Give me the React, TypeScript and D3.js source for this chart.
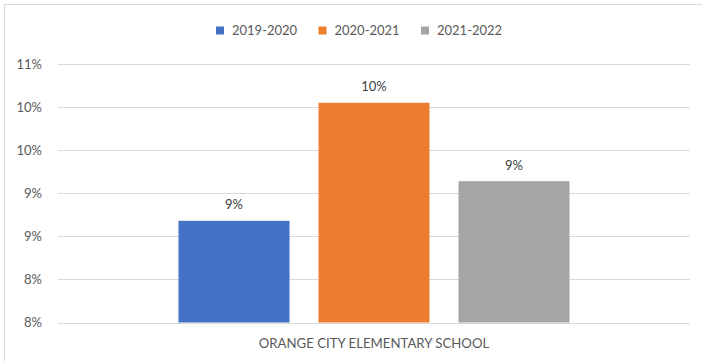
import React, { useEffect, useRef } from 'react';
import * as d3 from 'd3';

const categories = ['ORANGE CITY ELEMENTARY SCHOOL'];
const seriesNames = ['2019-2020', '2020-2021', '2021-2022'];
const seriesColors = ['#4472c4', '#ed7d31', '#a5a5a5'];
const seriesValues = [0.0898, 0.1035, 0.0944];
const yTicks = [0.078, 0.083, 0.088, 0.093, 0.098, 0.103, 0.108];

const WIDTH = 702;
const HEIGHT = 361;
const FONT = 'Lato, "Open Sans", sans-serif';

const App: React.FC = () => {
  const svgRef = useRef<SVGSVGElement>(null);

  useEffect(() => {
    if (!svgRef.current) return;
    const svg = d3.select(svgRef.current);
    svg.selectAll('*').remove();

    const margin = { top: 64, right: 12, bottom: 38.5, left: 58 };
    const innerWidth = WIDTH - margin.left - margin.right;
    const innerHeight = HEIGHT - margin.top - margin.bottom;

    // chart frame (only top/left edges fall inside the picture)
    svg.append('rect')
      .attr('x', 4.5)
      .attr('y', 4.5)
      .attr('width', WIDTH + 20)
      .attr('height', HEIGHT + 20)
      .attr('fill', '#fff')
      .attr('stroke', '#d9d9d9');

    const g = svg.append('g')
      .attr('transform', `translate(${margin.left}, ${margin.top})`);

    const y = d3.scaleLinear()
      .domain([yTicks[0], yTicks[yTicks.length - 1]])
      .range([innerHeight, 0]);

    const x0 = d3.scaleBand()
      .domain(categories)
      .range([0, innerWidth])
      .paddingOuter(0.2524);

    const x1 = d3.scaleBand()
      .domain(seriesNames)
      .range([0, x0.bandwidth()])
      .paddingInner(0.207)
      .paddingOuter(0.1035);

    // gridlines
    g.selectAll('line.grid')
      .data(yTicks)
      .join('line')
      .attr('class', 'grid')
      .attr('x1', 0)
      .attr('x2', innerWidth)
      .attr('y1', d => Math.round(y(d)) + 0.5)
      .attr('y2', d => Math.round(y(d)) + 0.5)
      .attr('stroke', '#d9d9d9')
      .attr('stroke-width', 1);

    // y labels
    const fmt = d3.format('.0%');
    g.selectAll('text.ytick')
      .data(yTicks)
      .join('text')
      .attr('class', 'ytick')
      .attr('x', -16)
      .attr('y', d => y(d))
      .attr('dy', '0.35em')
      .attr('text-anchor', 'end')
      .attr('font-family', FONT)
      .attr('font-size', '13px')
      .attr('fill', '#595959')
      .text(d => fmt(d));

    const groups = g.selectAll('g.cat')
      .data(categories)
      .join('g')
      .attr('class', 'cat')
      .attr('transform', d => `translate(${x0(d)}, 0)`);

    groups.selectAll('rect')
      .data(seriesNames.map((s, i) => ({ s, v: seriesValues[i], c: seriesColors[i] })))
      .join('rect')
      .attr('x', d => x1(d.s) || 0)
      .attr('y', d => y(d.v))
      .attr('width', x1.bandwidth())
      .attr('height', d => innerHeight - y(d.v))
      .attr('fill', d => d.c);

    groups.selectAll('text.value')
      .data(seriesNames.map((s, i) => ({ s, v: seriesValues[i] })))
      .join('text')
      .attr('class', 'value')
      .attr('x', d => (x1(d.s) || 0) + x1.bandwidth() / 2)
      .attr('y', d => y(d.v) - 16)
      .attr('dy', '0.35em')
      .attr('text-anchor', 'middle')
      .attr('font-family', FONT)
      .attr('font-size', '13px')
      .attr('fill', '#404040')
      .text(d => fmt(d.v));

    // category label
    g.selectAll('text.cat')
      .data(categories)
      .join('text')
      .attr('class', 'cat')
      .attr('x', d => (x0(d) || 0) + x0.bandwidth() / 2)
      .attr('y', innerHeight + 21)
      .attr('dy', '0.35em')
      .attr('text-anchor', 'middle')
      .attr('font-family', FONT)
      .attr('font-size', '13.2px')
      .attr('fill', '#595959')
      .text(d => d);

    // legend
    const legendX = [216, 318.5, 421];
    const legend = svg.append('g').attr('transform', 'translate(0, 30.5)');
    seriesNames.forEach((name, i) => {
      const item = legend.append('g').attr('transform', `translate(${legendX[i]}, 0)`);
      item.append('rect')
        .attr('x', 0)
        .attr('y', -4)
        .attr('width', 8)
        .attr('height', 8)
        .attr('fill', seriesColors[i]);
      item.append('text')
        .attr('x', 16)
        .attr('y', 0)
        .attr('dy', '0.35em')
        .attr('font-family', FONT)
        .attr('font-size', '13px')
        .attr('fill', '#595959')
        .text(name);
    });
  }, []);

  return (
    <div style={{ position: 'absolute', left: 0, top: 0 }}>
      <svg ref={svgRef} width={WIDTH} height={HEIGHT} style={{ display: 'block' }} />
    </div>
  );
};

export default App;
